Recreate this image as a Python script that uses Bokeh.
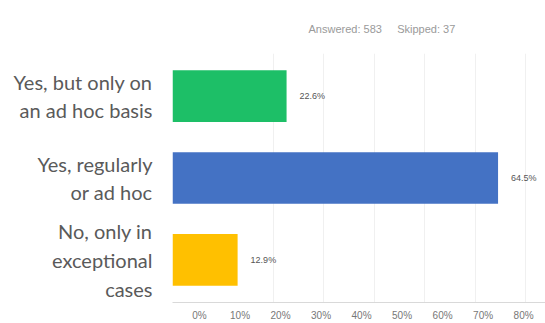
from bokeh.plotting import figure
from bokeh.models import (Range1d, LinearAxis, FixedTicker, Grid, ColumnDataSource,
                          PrintfTickFormatter)
from bokeh.embed import file_html
from bokeh.resources import INLINE

categories = ["Yes, but only on\nan ad hoc basis", "Yes, regularly\nor ad hoc", "No, only in\nexceptional\ncases"]
values = [22.6, 64.5, 12.9]
value_labels = ["22.6%", "64.5%", "12.9%"]
colors = ["#1DBF67", "#4472C4", "#FFC000"]
tick_values = [0, 10, 20, 30, 40, 50, 60, 70, 80]
answered = 583
skipped = 37

ypos = [2, 1, 0]
src = ColumnDataSource(dict(y=ypos, v=values, lab=value_labels, c=colors))

p = figure(width=545, height=323, output_backend="svg", toolbar_location=None,
           x_range=Range1d(0, 73.9), y_range=Range1d(-0.52, 2.52),
           x_axis_location=None, y_axis_location="left",
           min_border_left=172, min_border_right=0, min_border_top=53, min_border_bottom=18)
p.outline_line_color = None
p.background_fill_color = "white"
p.border_fill_color = "white"
p.xgrid.visible = False
p.ygrid.visible = False

gap = "\u00a0" * 5
p.title.text = f"Answered: {answered}{gap}Skipped: {skipped}"
p.title.align = "left"
p.title.offset = 136
p.title.standoff = 37
p.title.text_font = "Liberation Sans"
p.title.text_font_size = "11px"
p.title.text_font_style = "normal"
p.title.text_color = "#9a9a9a"

grid = Grid(dimension=0, ticker=FixedTicker(ticks=[20, 30, 40, 50, 60, 70]),
            grid_line_color="#f0f0f0", grid_line_width=1)
p.add_layout(grid)

p.hbar(y="y", left=0, right="v", height=0.63, fill_color="c", line_color=None, source=src)
p.text(x="v", y="y", text="lab", x_offset=13, text_baseline="middle", text_align="left",
       text_font_size="9px", text_color="#555555", source=src)

yax = p.yaxis[0]
yax.ticker = FixedTicker(ticks=ypos)
yax.major_label_overrides = {2: categories[0], 1: categories[1], 0: categories[2]}
yax.axis_line_color = None
yax.major_tick_line_color = None
yax.minor_tick_line_color = None
yax.major_tick_out = 0
yax.major_label_standoff = 20
yax.major_label_text_font = "Lato"
yax.major_label_text_font_size = "20px"
yax.major_label_text_color = "#5a5a5a"
yax.major_label_text_align = "right"

p.extra_x_ranges = {"ticks": Range1d(-6.67, 85.4)}
xax = LinearAxis(x_range_name="ticks", ticker=FixedTicker(ticks=tick_values),
                 formatter=PrintfTickFormatter(format="%d%%"))
xax.axis_line_color = "#d9d9d9"
xax.major_tick_line_color = None
xax.minor_tick_line_color = None
xax.major_tick_out = 0
xax.major_label_standoff = 7
xax.major_label_text_font = "Liberation Sans"
xax.major_label_text_font_size = "10px"
xax.major_label_text_color = "#777777"
p.add_layout(xax, "below")

open("out.html", "w").write(file_html(p, INLINE))
